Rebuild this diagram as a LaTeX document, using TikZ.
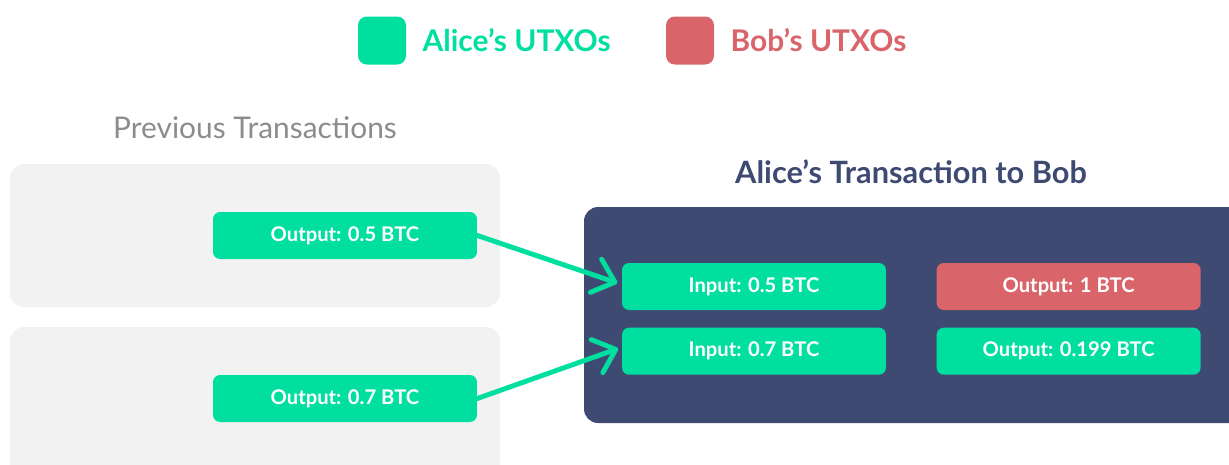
\documentclass[tikz,border=0pt]{standalone}
\usepackage{fontspec}
\setmainfont{Lato}
\usetikzlibrary{
		positioning,
		arrows.meta
	}
\definecolor{alicegreen}{RGB}{0,223,160}
\definecolor{bobred}{RGB}{217,101,106}
\definecolor{txnavy}{RGB}{62,74,114}
\definecolor{panelgray}{RGB}{242,242,242}
\definecolor{titlegray}{RGB}{140,140,140}
\tikzset{
		>=stealth
	}

\begin{document}
\begin{tikzpicture}[x=0.02cm, y=-0.02cm,
					utxo/.style={rounded corners=4pt, minimum width=5.28cm, minimum height=0.94cm, inner sep=0pt, text=white, font=\bfseries\fontsize{11.5}{13}\selectfont},
					alice/.style={utxo, fill=alicegreen},
					bob/.style={utxo, fill=bobred},
					legendkey/.style={rounded corners=5pt, minimum size=0.96cm, inner sep=0pt},
					legendtext/.style={font=\bfseries\fontsize{17}{20}\selectfont, inner sep=0pt},
					heading/.style={font=\fontsize{17}{20}\selectfont},
					panel/.style={fill=panelgray, rounded corners=8pt},
					spend/.style={alicegreen, line width=2.8pt, line cap=round, -{Straight Barb[length=0.4cm, width=0.7cm, line cap=round, line join=round]}}]
		\clip (0,0) rectangle (1229,464);
		% legend
		\node[legendkey, fill=alicegreen] (alicekey) at (382,40.5) {};
		\node[legendtext, text=alicegreen, right=0.32cm of alicekey] (alicelabel) {Alice's UTXOs};
		\node[legendkey, fill=bobred] (bobkey) at (690,40.5) {};
		\node[legendtext, text=bobred, right=0.32cm of bobkey] (boblabel) {Bob's UTXOs};
		% panels
		\fill[panel] (10,164) rectangle (500,307);
		\fill[panel] (10,327) rectangle (500,490);
		\fill[txnavy, rounded corners=8pt] (584,207) rectangle (1250,423);
		\node[heading, text=titlegray] (prevtitle) at (255,128) {Previous Transactions};
		\node[heading, text=txnavy, font=\bfseries\fontsize{17.5}{20}\selectfont] (txtitle) at (911,172) {Alice's Transaction to Bob};
		% utxos
		\node[alice] (out05) at (345,235.5) {Output: 0.5 BTC};
		\node[alice] (out07) at (345,398.5) {Output: 0.7 BTC};
		\node[alice] (in05) at (754,286.5) {Input: 0.5 BTC};
		\node[alice, below=0.34cm of in05] (in07) {Input: 0.7 BTC};
		\node[bob, right=1cm of in05] (out1) {Output: 1 BTC};
		\node[alice, below=0.34cm of out1] (out0199) {Output: 0.199 BTC};
		% spending
		\draw[spend] (out05.east) -- ([xshift=-2.5pt, yshift=2pt]in05.west);
		\draw[spend] (out07.east) -- ([xshift=-2pt, yshift=1.5pt]in07.west);
	\end{tikzpicture}
\end{document}
